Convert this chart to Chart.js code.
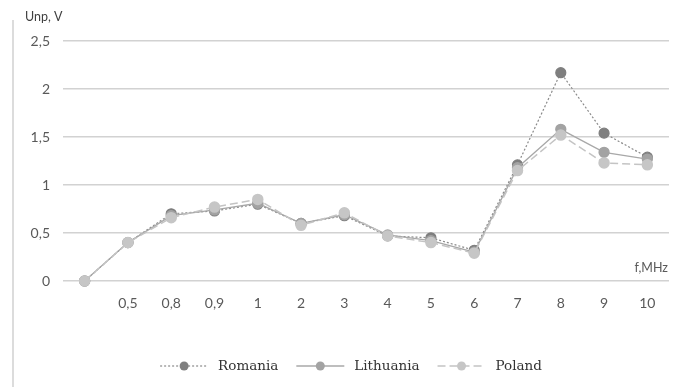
<!DOCTYPE html>
<html>
<head>
<meta charset="utf-8">
<script src="https://cdn.jsdelivr.net/npm/chart.js@4/dist/chart.umd.min.js"></script>
<style>
  html, body { margin: 0; padding: 0; background: #fff; }
  #wrap { width: 679px; height: 387px; position: relative; }
</style>
</head>
<body>
<div id="wrap"><canvas id="c" width="679" height="387"></canvas></div>
<script>
const categories = ["", "0,5", "0,8", "0,9", "1", "2", "3", "4", "5", "6", "7", "8", "9", "10"];
const romania   = [0, 0.40, 0.70, 0.73, 0.80, 0.60, 0.68, 0.47, 0.45, 0.32, 1.21, 2.17, 1.54, 1.29];
const lithuania = [0, 0.40, 0.68, 0.74, 0.81, 0.60, 0.69, 0.48, 0.42, 0.30, 1.18, 1.58, 1.34, 1.27];
const poland    = [0, 0.40, 0.66, 0.77, 0.85, 0.58, 0.71, 0.47, 0.40, 0.29, 1.15, 1.52, 1.23, 1.21];
const yTicks = [0, 0.5, 1, 1.5, 2, 2.5];
const seriesNames = ["Romania", "Lithuania", "Poland"];
const yTitle = "Unp, V";
const xTitle = "f,MHz";

const decor = {
  id: 'decor',
  afterDraw(chart) {
    const ctx = chart.ctx;
    ctx.save();
    // left border line
    ctx.strokeStyle = '#dcdcdc';
    ctx.lineWidth = 2;
    ctx.beginPath();
    ctx.moveTo(13, 20);
    ctx.lineTo(13, 387);
    ctx.stroke();
    // axis titles
    ctx.fillStyle = '#404040';
    ctx.font = '12.5px Lato';
    ctx.textBaseline = 'middle';
    ctx.textAlign = 'left';
    ctx.fillText(yTitle, 25, 17);
    ctx.fillStyle = '#595959';
    ctx.textAlign = 'right';
    ctx.fillText(xTitle, 668, 268);
    // legend
    ctx.font = '13.5px "DejaVu Serif"';
    const sampleW = 48, gapT = 10, gapItem = 18;
    const ds = chart.data.datasets;
    let total = 0;
    const widths = ds.map(d => ctx.measureText(d.label).width);
    widths.forEach(w => total += sampleW + gapT + w);
    total += gapItem * (ds.length - 1);
    let x = 351 - total / 2;
    const y = 366;
    ds.forEach((d, i) => {
      ctx.strokeStyle = d.borderColor;
      ctx.lineWidth = d.borderWidth;
      ctx.setLineDash(d.borderDash || []);
      ctx.beginPath();
      ctx.moveTo(x, y);
      ctx.lineTo(x + sampleW, y);
      ctx.stroke();
      ctx.setLineDash([]);
      ctx.fillStyle = d.pointBackgroundColor;
      ctx.beginPath();
      ctx.arc(x + sampleW / 2, y, 4.5, 0, Math.PI * 2);
      ctx.fill();
      ctx.fillStyle = '#333';
      ctx.textAlign = 'left';
      ctx.fillText(d.label, x + sampleW + gapT, y);
      x += sampleW + gapT + widths[i] + gapItem;
    });
    ctx.restore();
  }
};

new Chart(document.getElementById('c'), {
  type: 'line',
  data: {
    labels: categories,
    datasets: [
      {
        label: seriesNames[0], data: romania, order: 3, clip: false,
        borderColor: '#8a8a8a', borderWidth: 1.2, borderDash: [2, 2],
        pointBackgroundColor: '#7f7f7f', pointBorderColor: '#7f7f7f',
        pointRadius: 5, pointHoverRadius: 5, tension: 0
      },
      {
        label: seriesNames[1], data: lithuania, order: 2, clip: false,
        borderColor: '#a8a8a8', borderWidth: 1.3,
        pointBackgroundColor: '#a3a3a3', pointBorderColor: '#a3a3a3',
        pointRadius: 5, pointHoverRadius: 5, tension: 0
      },
      {
        label: seriesNames[2], data: poland, order: 1, clip: false,
        borderColor: '#c4c4c4', borderWidth: 1.5, borderDash: [8, 4],
        pointBackgroundColor: '#c6c6c6', pointBorderColor: '#c6c6c6',
        pointRadius: 5, pointHoverRadius: 5, tension: 0
      }
    ]
  },
  options: {
    responsive: false,
    animation: false,
    devicePixelRatio: 1,
    layout: { padding: { top: 41, right: 10, bottom: 76, left: 0 } },
    plugins: { legend: { display: false }, tooltip: { enabled: false }, title: { display: false } },
    scales: {
      x: {
        type: 'category',
        offset: true,
        grid: { display: false, drawTicks: false },
        border: { display: false },
        ticks: { color: '#595959', font: { family: 'Lato', size: 14 }, padding: 14, maxRotation: 0, autoSkip: false },
        afterFit(s) { s.height = 30; }
      },
      y: {
        min: 0, max: 2.5,
        afterBuildTicks(s) { s.ticks = yTicks.map(v => ({ value: v })); },
        grid: { color: '#d2d2d2', lineWidth: 1.5, drawTicks: false },
        border: { display: false },
        ticks: {
          color: '#595959', font: { family: 'Lato', size: 14 }, padding: 13,
          callback: v => String(v).replace('.', ',')
        },
        afterFit(s) { s.width = 63; }
      }
    }
  },
  plugins: [decor]
});
</script>
</body>
</html>
